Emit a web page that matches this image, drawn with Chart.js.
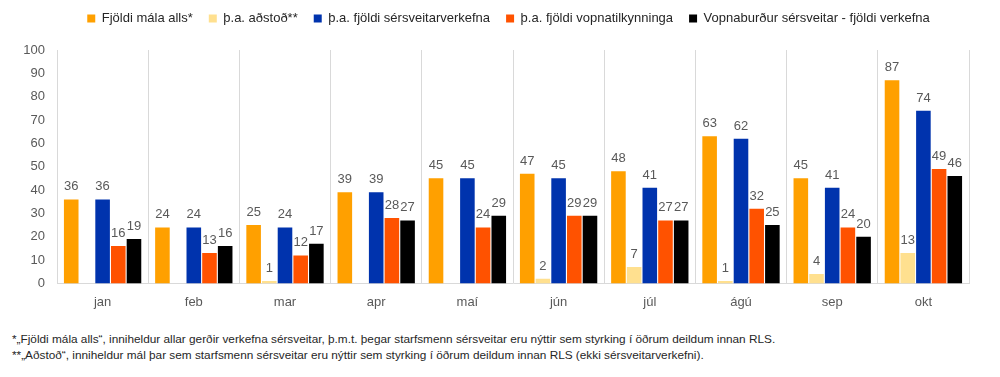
<!DOCTYPE html>
<html>
<head>
<meta charset="utf-8">
<script src="https://cdn.jsdelivr.net/npm/chart.js@4"></script>
<style>
  body { margin: 0; background: #fff; }
  #wrap { position: relative; width: 1000px; height: 377px; }
  #box { position: absolute; left: 0; top: 0; width: 1000px; height: 321px; }
  .note { position: absolute; left: 12px; font: 11.8px "Liberation Sans", sans-serif; color: #262626; white-space: nowrap; }
</style>
</head>
<body>
<div id="wrap">
  <div id="box"><canvas id="mychart"></canvas></div>
  <div class="note" style="top:332px">*„Fjöldi mála alls“, inniheldur allar gerðir verkefna sérsveitar, þ.m.t. þegar starfsmenn sérsveitar eru nýttir sem styrking í öðrum deildum innan RLS.</div>
  <div class="note" style="top:348px">**„Aðstoð“, inniheldur mál þar sem starfsmenn sérsveitar eru nýttir sem styrking í öðrum deildum innan RLS (ekki sérsveitarverkefni).</div>
</div>
<script>
const months = ["jan", "feb", "mar", "apr", "maí", "jún", "júl", "ágú", "sep", "okt"];
const totalCases = [36, 24, 25, 39, 45, 47, 48, 63, 45, 87];
const assistance = [0, 0, 1, 0, 0, 2, 7, 1, 4, 13];
const swatTasks = [36, 24, 24, 39, 45, 45, 41, 62, 41, 74];
const weaponReports = [16, 13, 12, 28, 24, 29, 27, 32, 24, 49];
const armedTasks = [19, 16, 17, 27, 29, 29, 27, 25, 20, 46];
const yTicks = [0, 10, 20, 30, 40, 50, 60, 70, 80, 90, 100];

const font = "'Liberation Sans', sans-serif";

// value labels above each bar, zeros skipped
const barLabels = {
  id: "barLabels",
  afterDatasetsDraw(chart) {
    const ctx = chart.ctx;
    ctx.save();
    ctx.font = "13px " + font;
    ctx.fillStyle = "#595959";
    ctx.textAlign = "center";
    ctx.textBaseline = "bottom";
    chart.data.datasets.forEach((ds, i) => {
      chart.getDatasetMeta(i).data.forEach((bar, j) => {
        const v = ds.data[j];
        if (!v) return;
        ctx.fillText(v, bar.x, bar.y - 6);
      });
    });
    ctx.restore();
  },
};

// fixed legend height so the plot starts where the original does,
// and nudge the legend a bit right like in the original
const legendHeight = {
  id: "legendHeight",
  beforeInit(chart) {
    const fit = chart.legend.fit;
    chart.legend.fit = function () {
      fit.bind(chart.legend)();
      this.height = 54;
    };
  },
  afterLayout(chart) {
    chart.legend.left += 24;
    chart.legend.right += 24;
  },
};

const ctx = document.getElementById("mychart").getContext("2d");

new Chart(ctx, {
  type: "bar",
  data: {
    labels: months,
    datasets: [
      { label: "Fjöldi mála alls*", data: totalCases, backgroundColor: "#FFA000" },
      { label: "þ.a. aðstoð**", data: assistance, backgroundColor: "#FFE08F" },
      { label: "þ.a. fjöldi sérsveitarverkefna", data: swatTasks, backgroundColor: "#0033AD" },
      { label: "þ.a. fjöldi vopnatilkynninga", data: weaponReports, backgroundColor: "#FF5200" },
      { label: "Vopnaburður sérsveitar - fjöldi verkefna", data: armedTasks, backgroundColor: "#000000" },
    ],
  },
  plugins: [barLabels, legendHeight],
  options: {
    responsive: true,
    maintainAspectRatio: false,
    animation: false,
    layout: { padding: { top: -4, right: 31, bottom: 0, left: 0 } },
    datasets: {
      bar: { categoryPercentage: 0.86, barPercentage: 0.93 },
    },
    plugins: {
      legend: {
        position: "top",
        labels: {
          boxWidth: 8,
          boxHeight: 8,
          padding: 16,
          color: "#262626",
          font: { family: font, size: 13 },
        },
      },
      tooltip: { enabled: false },
    },
    scales: {
      x: {
        grid: { offset: true, color: "#D9D9D9", drawTicks: false },
        border: { color: "#D9D9D9" },
        ticks: { color: "#595959", padding: 11, font: { family: font, size: 13 } },
      },
      y: {
        min: 0,
        max: 100,
        afterBuildTicks: (axis) => { axis.ticks = yTicks.map((v) => ({ value: v })); },
        afterFit: (axis) => { axis.width = 57; },
        grid: { display: false, drawTicks: false },
        border: { display: false },
        ticks: { color: "#595959", padding: 12, font: { family: font, size: 13 } },
      },
    },
  },
});
</script>
</body>
</html>
